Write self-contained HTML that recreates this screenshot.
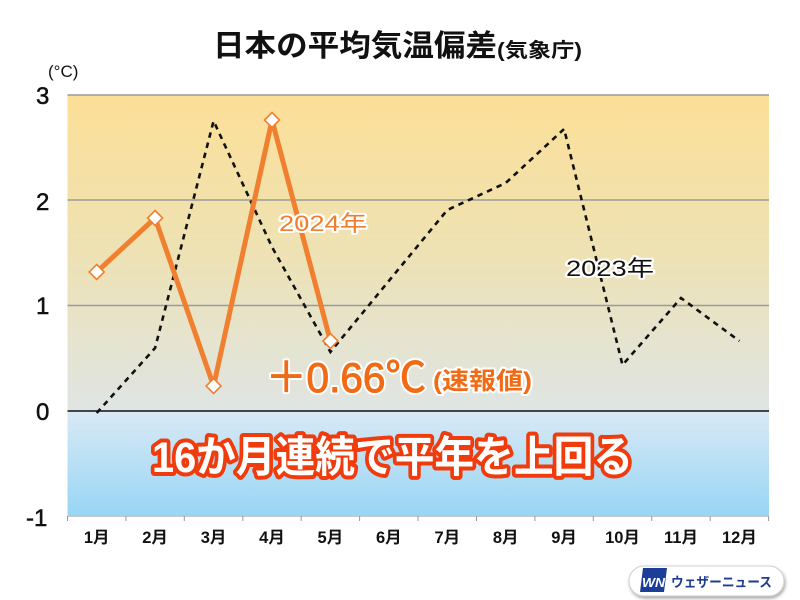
<!DOCTYPE html>
<html><head><meta charset="utf-8">
<style>
html,body{margin:0;padding:0;background:#fff;}
svg{display:block;}
text{font-family:"Liberation Sans","Noto Sans CJK JP",sans-serif;}
</style></head>
<body>
<svg width="800" height="600" viewBox="0 0 800 600" xmlns="http://www.w3.org/2000/svg">
<defs>
<linearGradient id="gw" x1="0" y1="0" x2="0" y2="1">
<stop offset="0" stop-color="#FCDF97"/>
<stop offset="0.5" stop-color="#EEE2B4"/>
<stop offset="1" stop-color="#DFE5E4"/>
</linearGradient>
<linearGradient id="gc" x1="0" y1="0" x2="0" y2="1">
<stop offset="0" stop-color="#D9E9F5"/>
<stop offset="1" stop-color="#98D5F5"/>
</linearGradient>
<filter id="sh" x="-10%" y="-30%" width="120%" height="170%">
<feDropShadow dx="1" dy="2" stdDeviation="1.5" flood-color="#000" flood-opacity="0.35"/>
</filter>
</defs>

<!-- plot background -->
<rect x="67.5" y="95" width="701.5" height="316" fill="url(#gw)"/>
<rect x="67.5" y="411" width="701.5" height="105.5" fill="url(#gc)"/>

<!-- gridlines -->
<g stroke="#9a9a9a" stroke-width="1.5">
<line x1="67.5" y1="95" x2="769" y2="95"/>
<line x1="67.5" y1="200" x2="769" y2="200"/>
<line x1="67.5" y1="305.5" x2="769" y2="305.5"/>
</g>
<line x1="67.5" y1="411" x2="769" y2="411" stroke="#111" stroke-width="1.6"/>
<line x1="67.5" y1="516.5" x2="769" y2="516.5" stroke="#c8c8c8" stroke-width="1"/>
<g stroke="#999" stroke-width="1">
<line x1="67.5" y1="516" x2="67.5" y2="521"/>
<line x1="125.9" y1="516" x2="125.9" y2="521"/>
<line x1="184.3" y1="516" x2="184.3" y2="521"/>
<line x1="242.8" y1="516" x2="242.8" y2="521"/>
<line x1="301.2" y1="516" x2="301.2" y2="521"/>
<line x1="359.6" y1="516" x2="359.6" y2="521"/>
<line x1="418.0" y1="516" x2="418.0" y2="521"/>
<line x1="476.5" y1="516" x2="476.5" y2="521"/>
<line x1="534.9" y1="516" x2="534.9" y2="521"/>
<line x1="593.3" y1="516" x2="593.3" y2="521"/>
<line x1="651.7" y1="516" x2="651.7" y2="521"/>
<line x1="710.2" y1="516" x2="710.2" y2="521"/>
<line x1="768.6" y1="516" x2="768.6" y2="521"/>
</g>

<!-- y labels -->
<g font-size="24" fill="#111" stroke="#111" stroke-width="0.5">
<text x="36" y="104">3</text>
<text x="36" y="210">2</text>
<text x="36" y="314">1</text>
<text x="36" y="420">0</text>
<text x="26" y="526">-1</text>
</g>
<text x="48" y="77" font-size="17" fill="#111">(°C)</text>

<!-- month labels -->
<g font-size="16.5" font-weight="bold" fill="#111" text-anchor="middle">
<text x="96.7" y="543">1月</text>
<text x="155.1" y="543">2月</text>
<text x="213.6" y="543">3月</text>
<text x="272.0" y="543">4月</text>
<text x="330.4" y="543">5月</text>
<text x="388.8" y="543">6月</text>
<text x="447.3" y="543">7月</text>
<text x="505.7" y="543">8月</text>
<text x="564.1" y="543">9月</text>
<text x="622.5" y="543">10月</text>
<text x="681.0" y="543">11月</text>
<text x="739.4" y="543">12月</text>
</g>

<!-- title -->
<text x="213" y="56" font-size="30" font-weight="bold" fill="#111" textLength="284" lengthAdjust="spacingAndGlyphs">日本の平均気温偏差</text>
<text x="497" y="57" font-size="20" font-weight="bold" fill="#111" textLength="85" lengthAdjust="spacingAndGlyphs">(気象庁)</text>

<!-- 2023 dashed -->
<polyline fill="none" stroke="#111" stroke-width="2.6" stroke-dasharray="5.5,5"
points="96.7,413 155.1,348 213.6,121 272.0,247 330.4,352 388.8,281 447.3,210 505.7,183 564.1,129 622.5,365 681.0,298 739.4,341"/>

<!-- 2024 orange -->
<polyline fill="none" stroke="#F08030" stroke-width="5" stroke-linejoin="round"
points="96.7,272 155.1,218 213.6,386 272.0,120 330.4,341"/>
<g fill="#fff" stroke="#F08030" stroke-width="1.6">
<polygon points="96.7,264.5 104.2,272 96.7,279.5 89.2,272"/>
<polygon points="155.1,210.5 162.6,218 155.1,225.5 147.6,218"/>
<polygon points="213.6,378.5 221.1,386 213.6,393.5 206.1,386"/>
<polygon points="272.0,112.5 279.5,120 272.0,127.5 264.5,120"/>
<polygon points="330.4,333.5 337.9,341 330.4,348.5 322.9,341"/>
</g>

<!-- series labels -->
<text x="279" y="231" font-size="22" fill="#F07E30" stroke="#fff" stroke-width="4" paint-order="stroke" stroke-linejoin="round" textLength="88" lengthAdjust="spacingAndGlyphs">2024年</text>
<text x="566" y="276" font-size="22" fill="#111" stroke="#fff" stroke-width="4" paint-order="stroke" stroke-linejoin="round" textLength="88" lengthAdjust="spacingAndGlyphs">2023年</text>

<!-- +0.66 -->
<text x="266" y="392" font-size="42" fill="#F26A14" stroke="#fff" stroke-width="5" paint-order="stroke" stroke-linejoin="round" textLength="160" lengthAdjust="spacingAndGlyphs">＋0.66℃</text>
<text x="266" y="392" font-size="42" fill="none" stroke="#F26A14" stroke-width="1" textLength="160" lengthAdjust="spacingAndGlyphs">＋0.66℃</text>
<text x="433" y="389" font-size="24" font-weight="bold" fill="#F26A14" stroke="#fff" stroke-width="4" paint-order="stroke" stroke-linejoin="round" textLength="99" lengthAdjust="spacingAndGlyphs">(速報値)</text>

<!-- big message -->
<text x="152" y="472" font-size="43" font-weight="bold" fill="#fff" stroke="#F03C0C" stroke-width="8" paint-order="stroke" stroke-linejoin="round" textLength="481" lengthAdjust="spacingAndGlyphs">16か月連続で平年を上回る</text>

<!-- logo -->
<rect x="629" y="566" width="155" height="30" rx="15" fill="#fff" stroke="#cfcfcf" stroke-width="1" filter="url(#sh)"/>
<polygon points="643,568 667,568 664,592 640,592" fill="#1B3F99"/>
<text x="642" y="587" font-size="13" font-weight="bold" font-style="italic" fill="#fff" textLength="23" lengthAdjust="spacingAndGlyphs">WN</text>
<text x="671" y="587" font-size="13.5" font-weight="bold" fill="#1D3C8F" textLength="101" lengthAdjust="spacingAndGlyphs">ウェザーニュース</text>
</svg>
</body></html>
